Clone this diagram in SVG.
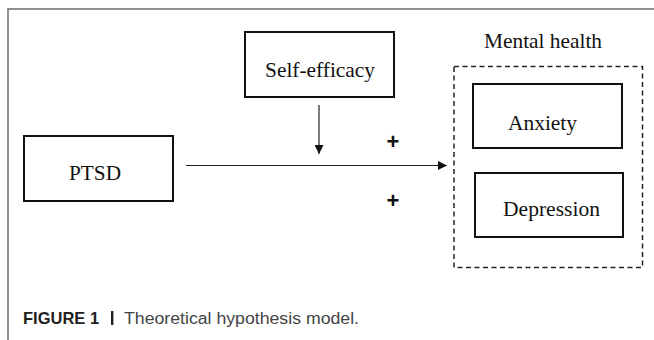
<svg xmlns="http://www.w3.org/2000/svg" width="654" height="340" viewBox="0 0 654 340">
<style>
.frame{fill:none;stroke:#6e6e6e;stroke-width:1.5}
.box{fill:#fff;stroke:#111;stroke-width:2}
.dash{fill:none;stroke:#222;stroke-width:1.5;stroke-dasharray:5 3.5}
.lbl{font-family:"Liberation Serif","Times New Roman",serif;font-size:22px;fill:#111;text-anchor:middle}
.plus{font-family:"Liberation Sans",Arial,sans-serif;font-size:22px;font-weight:bold;fill:#111;text-anchor:middle}
.edge{stroke:#222;stroke-width:1.2;fill:none}
.cap{font-family:"Liberation Sans",Arial,sans-serif;font-size:16px;fill:#444}
.capb{font-family:"Liberation Sans",Arial,sans-serif;font-size:16.5px;font-weight:bold;fill:#222}
</style>
<defs>
<marker id="ah" viewBox="0 0 10 10" refX="10" refY="5" markerWidth="10" markerHeight="9" markerUnits="userSpaceOnUse" orient="auto">
<path d="M0,0 L10,5 L0,10 z" fill="#111"/>
</marker>
</defs>
<rect width="654" height="340" fill="#fff"/>
<path class="frame" d="M8,340 V9 H654"/>
<g id="self-efficacy">
<rect class="box" x="245" y="32" width="149" height="65"/>
<text class="lbl" x="320" y="77" textLength="110" lengthAdjust="spacingAndGlyphs">Self-efficacy</text>
</g>
<g id="ptsd">
<rect class="box" x="24" y="136" width="149" height="65"/>
<text class="lbl" x="95" y="179.5" textLength="52" lengthAdjust="spacingAndGlyphs">PTSD</text>
</g>
<g id="mental-health">
<text class="lbl" x="543" y="47.5" textLength="118" lengthAdjust="spacingAndGlyphs">Mental health</text>
<rect class="dash" x="454" y="66.5" width="188.5" height="201"/>
</g>
<g id="anxiety">
<rect class="box" x="473" y="84" width="149" height="64"/>
<text class="lbl" x="542.5" y="130" textLength="69" lengthAdjust="spacingAndGlyphs">Anxiety</text>
</g>
<g id="depression">
<rect class="box" x="475" y="173" width="148" height="64"/>
<text class="lbl" x="551.5" y="215.5" textLength="97" lengthAdjust="spacingAndGlyphs">Depression</text>
</g>
<g id="connectors">
<line class="edge" x1="319" y1="105" x2="319" y2="154" marker-end="url(#ah)"/>
<line class="edge" x1="186" y1="165.5" x2="447" y2="165.5" marker-end="url(#ah)"/>
<text class="plus" x="393" y="149">+</text>
<text class="plus" x="393" y="208">+</text>
</g>
<text class="capb" x="23" y="323.5">FIGURE 1</text>
<rect x="111" y="311" width="2.4" height="14" fill="#222"/>
<text class="cap" x="124" y="323.5" textLength="235" lengthAdjust="spacingAndGlyphs">Theoretical hypothesis model.</text>
</svg>
